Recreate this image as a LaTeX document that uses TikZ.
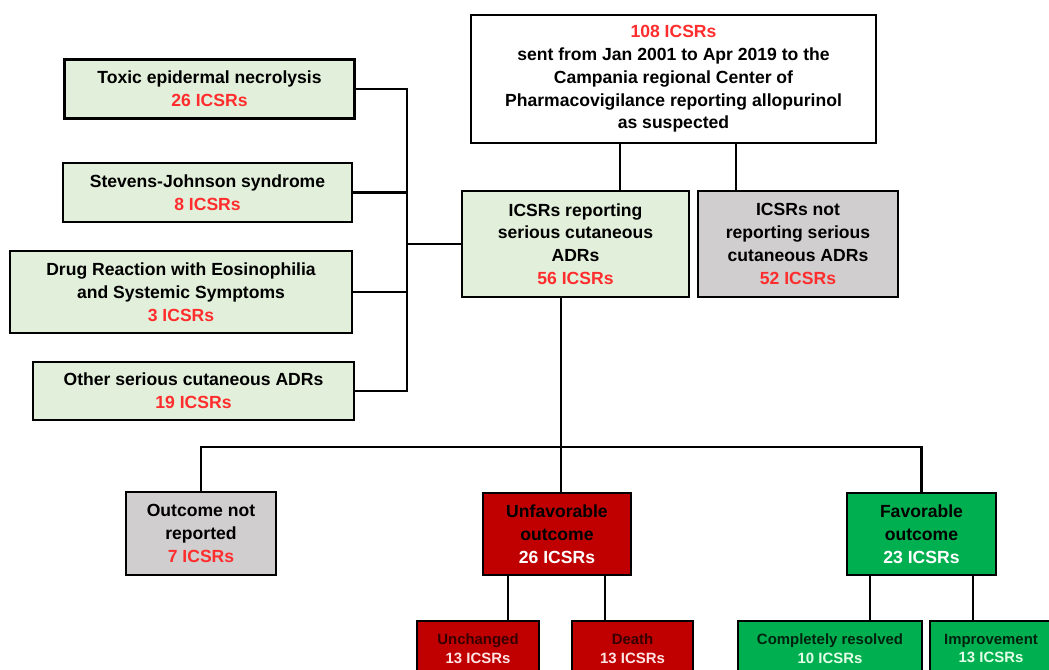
\documentclass[tikz,border=0pt]{standalone}
\usepackage{fontspec}
\setmainfont{Liberation Sans}
\definecolor{sevgreen}{RGB}{226,239,218}
\definecolor{nogrey}{RGB}{208,206,206}
\definecolor{badred}{RGB}{192,0,0}
\definecolor{goodgreen}{RGB}{0,176,80}
\definecolor{countred}{RGB}{255,45,45}
\definecolor{darkred}{RGB}{55,0,0}
\definecolor{darkgreen}{RGB}{0,35,15}
\definecolor{palered}{RGB}{255,228,228}
\definecolor{palegreen}{RGB}{228,255,232}

\begin{document}
\begin{tikzpicture}[x=0.02cm, y=-0.02cm,
    box/.style={draw=black, line width=1.2pt, align=center, inner sep=2pt,
                font=\fontsize{10}{13}\selectfont\bfseries},
    smallbox/.style={box, font=\fontsize{8.5}{10.5}\selectfont\bfseries},
    link/.style={line width=1.2pt}]
                \clip (0,0) rectangle (1049,670);
                % source reports and first split
                \node[box, fill=white, minimum width=8.1cm, minimum height=2.56cm] (src) at (673.5,79)
                    {\textcolor{countred}{108 ICSRs}\\sent from Jan 2001 to Apr 2019 to the\\Campania regional Center of\\Pharmacovigilance reporting allopurinol\\as suspected};
                \node[box, fill=sevgreen, minimum width=4.54cm, minimum height=2.12cm] (serious) at (575.5,244)
                    {ICSRs reporting\\serious cutaneous\\ADRs\\\textcolor{countred}{56 ICSRs}};
                \node[box, fill=nogrey, minimum width=4.0cm, minimum height=2.12cm] (notser) at (798,244)
                    {ICSRs not\\reporting serious\\cutaneous ADRs\\\textcolor{countred}{52 ICSRs}};
                
                % kinds of serious cutaneous ADRs
                \node[box, fill=sevgreen, minimum width=5.8cm, minimum height=1.18cm] (ten) at (209.5,89)
                    {Toxic epidermal necrolysis\\\textcolor{countred}{26 ICSRs}};
                \node[box, fill=sevgreen, minimum width=5.78cm, minimum height=1.18cm] (sjs) at (207.5,192.5)
                    {Stevens-Johnson syndrome\\\textcolor{countred}{8 ICSRs}};
                \node[box, fill=sevgreen, minimum width=6.84cm, minimum height=1.64cm] (dress) at (181,292)
                    {Drug Reaction with Eosinophilia\\and Systemic Symptoms\\\textcolor{countred}{3 ICSRs}};
                \node[box, fill=sevgreen, minimum width=6.42cm, minimum height=1.16cm] (other) at (193.5,391)
                    {Other serious cutaneous ADRs\\\textcolor{countred}{19 ICSRs}};
                
                % outcomes
                \node[box, fill=nogrey, minimum width=3.0cm, minimum height=1.66cm] (outnr) at (201,533.5)
                    {Outcome not\\reported\\\textcolor{countred}{7 ICSRs}};
                \node[box, fill=badred, minimum width=2.96cm, minimum height=1.64cm] (unfav) at (557,534)
                    {Unfavorable\\outcome\\\textcolor{white}{26 ICSRs}};
                \node[box, fill=goodgreen, minimum width=2.98cm, minimum height=1.64cm] (fav) at (921.5,534)
                    {Favorable\\outcome\\\textcolor{white}{23 ICSRs}};
                \node[smallbox, fill=badred, anchor=north, minimum width=2.44cm, minimum height=1.1cm] (unch) at (478,620)
                    {\textcolor{darkred}{Unchanged}\\\textcolor{palered}{13 ICSRs}};
                \node[smallbox, fill=badred, anchor=north, minimum width=2.42cm, minimum height=1.1cm] (death) at (632.5,620)
                    {\textcolor{darkred}{Death}\\\textcolor{palered}{13 ICSRs}};
                \node[smallbox, fill=goodgreen, anchor=north, minimum width=3.68cm, minimum height=1.1cm] (compl) at (830,620)
                    {\textcolor{darkgreen}{Completely resolved}\\\textcolor{palegreen}{10 ICSRs}};
                \node[smallbox, fill=goodgreen, anchor=north, minimum width=2.44cm, minimum height=1.1cm] (impr) at (991,620)
                    {\textcolor{darkgreen}{Improvement}\\\textcolor{palegreen}{13 ICSRs}};
                
                % connectors
                \coordinate (srcL) at (620,0);
                \coordinate (srcR) at (736,0);
                \coordinate (brk) at (407,244);
                \coordinate (split) at (561,447);
                \coordinate (ub1) at (508,0);
                \coordinate (ub2) at (605,0);
                \coordinate (fb1) at (870,0);
                \coordinate (fb2) at (973,0);
                \draw[link] (src.south -| srcL) -- (serious.north -| srcL);
                \draw[link] (src.south -| srcR) -- (notser.north -| srcR);
                \draw[link] (ten.east) -| (brk) |- (other.east);
                \draw[link] (sjs.east) -- (sjs.east -| brk);
                \draw[link] (dress.east) -- (dress.east -| brk);
                \draw[link] (brk) -- (serious.west);
                \draw[link] (serious.south -| split) -- (split);
                \draw[link] (outnr.north) -- (outnr.north |- split) -- (fav.north |- split) -- (fav.north);
                \draw[link] (split) -- (unfav.north -| split);
                \draw[link] (unfav.south -| ub1) -- (unch.north -| ub1);
                \draw[link] (unfav.south -| ub2) -- (death.north -| ub2);
                \draw[link] (fav.south -| fb1) -- (compl.north -| fb1);
                \draw[link] (fav.south -| fb2) -- (impr.north -| fb2);
            \end{tikzpicture}
\end{document}
